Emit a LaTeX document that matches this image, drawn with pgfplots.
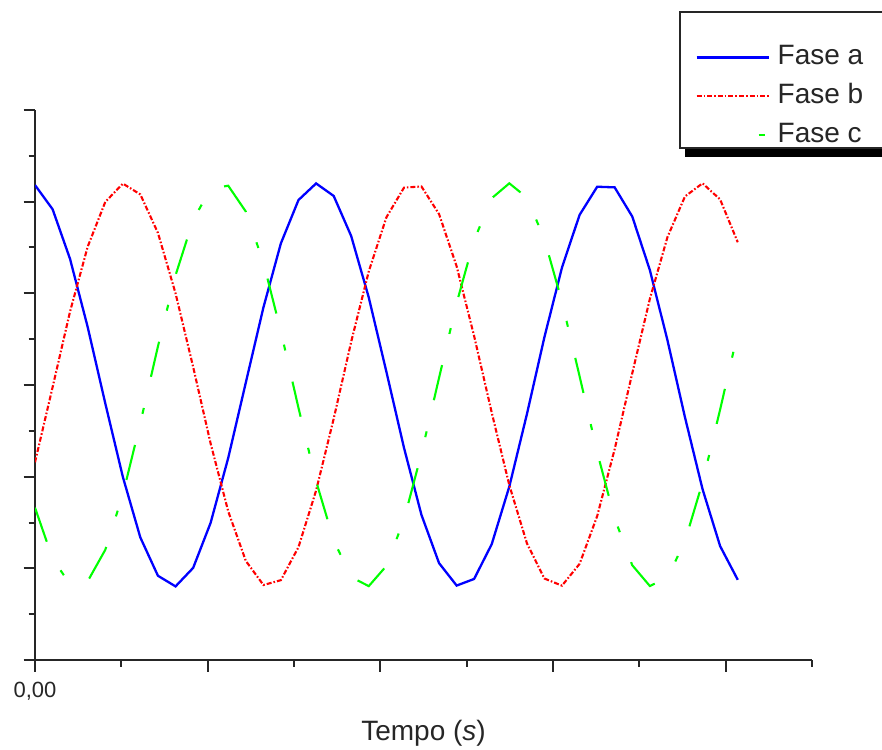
\documentclass[border=0pt]{standalone}
\usepackage{fontspec}
\setmainfont{Liberation Sans}
\usepackage{pgfplots}
\pgfplotsset{compat=1.18}
\usepackage{pgfplotstable}

\pgfplotstableread{
x a b c
0.000 2.181 -0.843 -1.338
0.102 1.917 -0.023 -1.894
0.203 1.375 0.801 -2.175
0.305 0.633 1.508 -2.141
0.407 -0.200 1.997 -1.798
0.509 -1.004 2.197 -1.194
0.610 -1.663 2.079 -0.416
0.712 -2.081 1.659 0.421
0.814 -2.197 1.000 1.197
0.916 -1.995 0.196 1.800
1.017 -1.504 -0.637 2.142
1.119 -0.796 -1.378 2.174
1.221 0.027 -1.919 1.892
1.323 0.847 -2.182 1.335
1.424 1.545 -2.129 0.585
1.526 2.018 -1.768 -0.250
1.628 2.199 -1.151 -1.049
1.730 2.062 -0.367 -1.695
1.831 1.626 0.470 -2.096
1.933 0.955 1.239 -2.194
2.035 0.145 1.829 -1.974
2.137 -0.685 2.153 -1.468
2.238 -1.416 2.166 -0.749
2.340 -1.943 1.865 0.078
2.442 -2.188 1.294 0.894
2.543 -2.116 0.535 1.580
2.645 -1.737 -0.300 2.037
2.747 -1.108 -1.093 2.200
2.849 -0.317 -1.727 2.044
2.950 0.520 -2.111 1.591
3.052 1.281 -2.189 0.909
3.154 1.856 -1.951 0.095
3.256 2.163 -1.429 -0.733
3.357 2.156 -0.701 -1.455
3.459 1.838 0.128 -1.966
3.561 1.253 0.940 -2.193
3.663 0.487 1.614 -2.101
3.764 -0.350 2.056 -1.706
3.866 -1.136 2.200 -1.063
3.968 -1.758 2.024 -0.267
4.070 -2.125 1.557 0.568
}\phases

\begin{document}
\begin{tikzpicture}
\useasboundingbox (0,0) rectangle (441pt,374.5pt);
% legend frame with drop shadow
\fill[black] (342.5pt,296pt) rectangle (470pt,366pt);
\filldraw[fill=white, draw=black!85, line width=1pt] (340pt,300.5pt) rectangle (465pt,368.5pt);
\begin{axis}[
  at={(17.5pt,44.5pt)}, anchor=south west,
  scale only axis, width=388.5pt, height=275pt,
  xmin=0, xmax=4.5, ymin=-3, ymax=3,
  axis x line*=bottom, axis y line*=left,
  axis line style={-, black!85, line width=1pt},
  tick align=outside,
  xtick={0,1,2,3,4}, xticklabels={{0,00},{},{},{},{}},
  minor xtick={0.5,1.5,2.5,3.5,4.5},
  ytick={-3,-2,-1,0,1,2,3}, yticklabels={{},{},{},{},{},{},{}},
  minor ytick={-2.5,-1.5,-0.5,0.5,1.5,2.5},
  major tick length=5.75pt, minor tick length=3.25pt,
  every tick/.style={black!85, line width=1pt},
  every minor tick/.style={black!85, line width=1pt},
  xticklabel style={font=\fontsize{11pt}{13pt}\selectfont, text=black!85, yshift=-2pt},
  /pgf/number format/assume math mode=true,
  xlabel={Tempo (\textit{s})},
  xlabel style={font=\fontsize{14pt}{16pt}\selectfont, text=black!85, at={(axis description cs:0.5,0)}, anchor=base, yshift=-40pt},
  legend image code/.code={\draw[#1] (0pt,0pt) -- (36pt,0pt);},
  legend style={draw=none, fill=none, inner sep=0pt, row sep=6.5pt,
    at={(axis description cs:0.8494,1.12)}, anchor=north west,
    nodes={inner sep=0pt, text height=10pt, text depth=3pt, font=\fontsize{14pt}{16pt}\selectfont, text=black!85},
    /tikz/every odd column/.append style={column sep=4pt}},
  legend cell align=left,
]
\addplot[blue, line width=1.15pt] table[x=x, y=a] {\phases};
\addlegendentry{Fase a}
\addplot[red, line width=1.05pt, dash pattern=on 2.5pt off 1pt on 0.8pt off 1pt] table[x=x, y=b] {\phases};
\addlegendentry{Fase b}
\addplot[green, line width=1.05pt, dash pattern=on 18pt off 16pt on 3pt off 16pt,
  legend image code/.code={\draw[green, line width=1.05pt] (31pt,0pt) -- (34pt,0pt);}] table[x=x, y=c] {\phases};
\addlegendentry{Fase c}
\end{axis}
\end{tikzpicture}
\end{document}
